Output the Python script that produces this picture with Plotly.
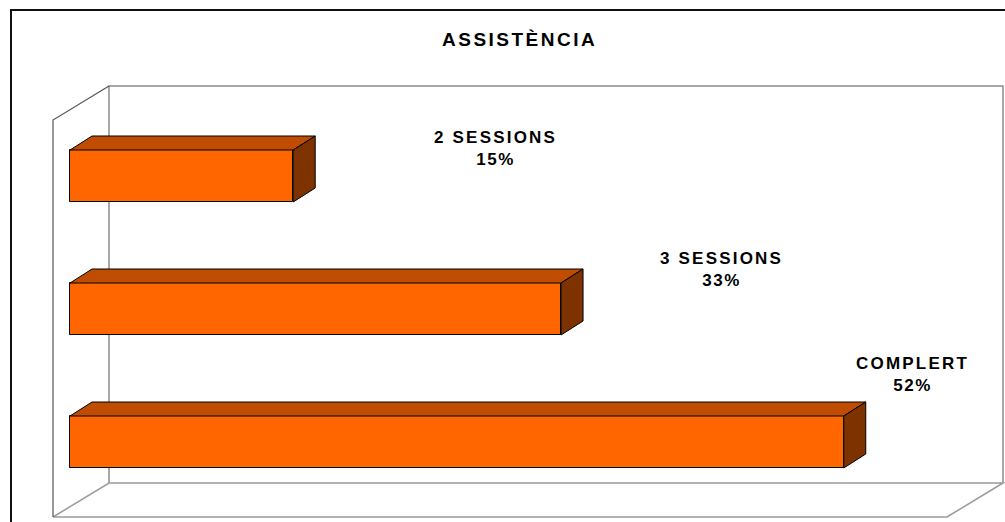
import plotly.graph_objects as go

# ---- data ----
categories = ["2 SESSIONS", "3 SESSIONS", "COMPLERT"]
percentages = [15, 33, 52]
value_labels = ["15%", "33%", "52%"]
title_text = "ASSISTÈNCIA"

# label anchor positions (value units, category-row units)
label_x = [28.6, 43.8, 56.6]
label_y = [-0.21, 0.70, 1.49]

# ---- layout geometry / styles ----
W, H = 1005, 522
PX_PER_PCT = 14.88
ZERO_PX = 70
ROW0_PX = 176
ROW_PX = 133

x_range = [(0 - ZERO_PX) / PX_PER_PCT, (W - ZERO_PX) / PX_PER_PCT]
y_range = [(H - ROW0_PX) / ROW_PX, (0 - ROW0_PX) / ROW_PX]  # reversed

BAR_W = 52 / ROW_PX
DX = 22 / PX_PER_PCT
DY = 14 / ROW_PX

FRONT = "#FF6600"
TOP = "#BF4C00"
SIDE = "#7E3200"
FONT = "Liberation Sans"

rows = list(range(len(categories)))

fig = go.Figure()

# front faces
fig.add_trace(go.Bar(
    x=percentages, y=rows, orientation="h", width=BAR_W,
    marker=dict(color=FRONT, line=dict(color="black", width=1)),
    hoverinfo="skip", showlegend=False,
))

# top faces and side faces (derived from values)
tx, ty, sx, sy = [], [], [], []
for r, v in zip(rows, percentages):
    top = r - BAR_W / 2
    bot = r + BAR_W / 2
    tx += [0, v, v + DX, DX, 0, None]
    ty += [top, top, top - DY, top - DY, top, None]
    sx += [v, v + DX, v + DX, v, v, None]
    sy += [top, top - DY, bot - DY, bot, top, None]

fig.add_trace(go.Scatter(x=tx, y=ty, mode="lines", fill="toself", fillcolor=TOP,
                         line=dict(color="black", width=1), hoverinfo="skip", showlegend=False))
fig.add_trace(go.Scatter(x=sx, y=sy, mode="lines", fill="toself", fillcolor=SIDE,
                         line=dict(color="black", width=1), hoverinfo="skip", showlegend=False))


def px(x, y):
    return x / W, 1 - y / H


def path(points):
    s = ""
    for i, (x, y) in enumerate(points):
        a, b = px(x, y)
        s += ("M" if i == 0 else "L") + f"{a:.5f},{b:.5f} "
    return s


shapes = []
# back wall
shapes.append(dict(type="path", xref="paper", yref="paper", layer="below",
                   path=path([(109, 483), (109, 86), (1003, 86), (1003, 483)]),
                   line=dict(color="#8c8c8c", width=1.5)))
# floor
shapes.append(dict(type="path", xref="paper", yref="paper", layer="below",
                   path=path([(53, 517), (109, 483), (1003, 483), (947, 517), (53, 517)]),
                   line=dict(color="#9a9a9a", width=1.5)))
# left wall
shapes.append(dict(type="path", xref="paper", yref="paper", layer="below",
                   path=path([(53, 517), (53, 120), (109, 86)]),
                   line=dict(color="#555555", width=1.2)))
# outer border
shapes.append(dict(type="path", xref="paper", yref="paper", layer="below",
                   path=path([(11, 530), (11, 10), (1012, 10)]),
                   line=dict(color="#111111", width=2)))

annotations = []
tx0, ty0 = px(519, 40)
annotations.append(dict(
    x=tx0, y=ty0, xref="paper", yref="paper", showarrow=False,
    xanchor="center", yanchor="middle",
    text=f'<span style="letter-spacing:2.5px">{title_text}</span>',
    font=dict(family=FONT, size=19, color="black", weight="bold"),
))
for c, lab, lx, ly in zip(categories, value_labels, label_x, label_y):
    annotations.append(dict(
        x=lx, y=ly, xref="x", yref="y", showarrow=False,
        xanchor="center", yanchor="middle", align="center",
        text=f'<span style="letter-spacing:2.2px">{c}</span><br>'
             f'<span style="letter-spacing:1.5px">{lab}</span>',
        font=dict(family=FONT, size=17, color="black", weight="bold"),
    ))

fig.update_layout(
    width=W, height=H,
    margin=dict(l=0, r=0, t=0, b=0),
    paper_bgcolor="white", plot_bgcolor="white",
    xaxis=dict(range=x_range, visible=False, fixedrange=True),
    yaxis=dict(range=y_range, visible=False, fixedrange=True),
    shapes=shapes, annotations=annotations,
    bargap=0, showlegend=False,
)

fig.write_html("out.html", config={"displayModeBar": False},
               post_script="document.body.style.margin='0';document.body.style.overflow='hidden';")
